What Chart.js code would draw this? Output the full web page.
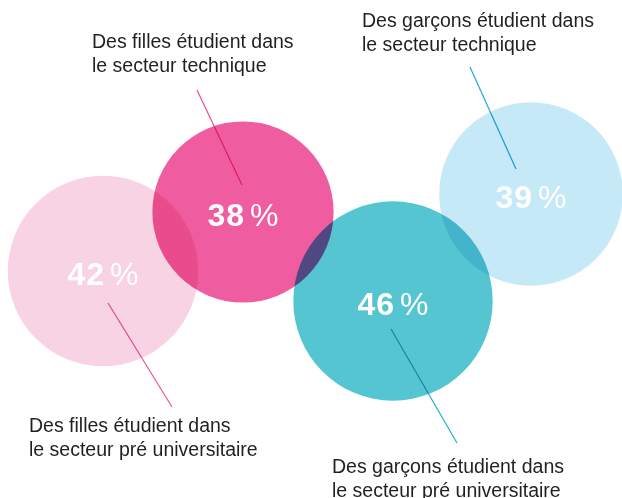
<!DOCTYPE html>
<html><head><meta charset="utf-8">
<script src="https://cdn.jsdelivr.net/npm/chart.js@4/dist/chart.umd.min.js"></script>
<style>html,body{margin:0;padding:0;background:#fff}#wrap{width:622px;height:498px;position:relative}</style>
</head><body><div id="wrap"><canvas id="c"></canvas></div>
<script>
// ---- data ----
const categories = [
  ["Des filles étudient dans", "le secteur pré universitaire"],
  ["Des filles étudient dans", "le secteur technique"],
  ["Des garçons étudient dans", "le secteur pré universitaire"],
  ["Des garçons étudient dans", "le secteur technique"]
];
const percentages = [42, 38, 46, 39];

// ---- layout (axis units = page pixels) ----
const bubbleX = [103, 243, 393, 531];
const bubbleY = [271, 212, 301, 194];
const labelX = [29, 92, 332, 362];
const labelY = [432, 48, 473, 27];
const leaderFrom = [[108, 303], [242, 185], [391, 329], [516, 169]];
const leaderTo = [[172, 407], [197, 90], [457, 443], [470, 67]];
const RADIUS_K = 14.7; // bubble area proportional to value

// ---- styles ----
const bubbleColors = ["#f8d3e3", "#ef5c9f", "#55c5d2", "#c6e9f8"];
const leaderColors = ["#e9559c", "#ea4c94", "#1fb0c8", "#1ea8e0"];

const FONT = '"Liberation Sans", Arial, Helvetica, sans-serif';

const multiplyPlugin = {
  id: 'multiply',
  beforeDatasetsDraw(chart) { chart.ctx.save(); chart.ctx.globalCompositeOperation = 'multiply'; },
  afterDatasetsDraw(chart) { chart.ctx.restore(); }
};

const annotatePlugin = {
  id: 'annotate',
  afterDraw(chart) {
    const ctx = chart.ctx;
    const xs = chart.scales.x, ys = chart.scales.y;
    const px = v => xs.getPixelForValue(v), py = v => ys.getPixelForValue(v);
    // leader lines
    ctx.save();
    ctx.globalCompositeOperation = 'multiply';
    ctx.lineWidth = 1.2;
    for (let i = 0; i < percentages.length; i++) {
      ctx.strokeStyle = leaderColors[i];
      ctx.beginPath();
      ctx.moveTo(px(leaderFrom[i][0]), py(leaderFrom[i][1]));
      ctx.lineTo(px(leaderTo[i][0]), py(leaderTo[i][1]));
      ctx.stroke();
    }
    ctx.restore();
    // category labels
    ctx.save();
    ctx.fillStyle = '#231f20';
    ctx.font = '400 19.5px ' + FONT;
    ctx.textAlign = 'left';
    ctx.textBaseline = 'alphabetic';
    for (let i = 0; i < categories.length; i++) {
      categories[i].forEach((line, j) => {
        ctx.fillText(line, px(labelX[i]), py(labelY[i]) + j * 23.5);
      });
    }
    ctx.restore();
    // percentage labels
    const meta = chart.getDatasetMeta(0);
    ctx.save();
    ctx.fillStyle = '#ffffff';
    ctx.textAlign = 'left';
    ctx.textBaseline = 'alphabetic';
    meta.data.forEach((el, i) => {
      const num = String(percentages[i]);
      ctx.font = '700 32px ' + FONT;
      ctx.letterSpacing = '1px';
      const wn = ctx.measureText(num).width;
      ctx.font = '400 32px ' + FONT;
      ctx.letterSpacing = '0px';
      const wp = ctx.measureText('%').width;
      const gap = 5;
      const start = el.x - (wn + gap + wp) / 2;
      const base = el.y + 14;
      ctx.font = '700 32px ' + FONT;
      ctx.letterSpacing = '1px';
      ctx.fillText(num, start, base);
      ctx.font = '400 32px ' + FONT;
      ctx.letterSpacing = '0px';
      ctx.fillText('%', start + wn + gap, base);
    });
    ctx.restore();
  }
};

new Chart(document.getElementById('c'), {
  type: 'bubble',
  data: {
    datasets: [{
      data: percentages.map((v, i) => ({ x: bubbleX[i], y: bubbleY[i], r: RADIUS_K * Math.sqrt(v) })),
      backgroundColor: bubbleColors,
      borderWidth: 0,
      clip: false
    }]
  },
  options: {
    responsive: true,
    maintainAspectRatio: false,
    animation: false,
    events: [],
    layout: { padding: 0, autoPadding: false },
    plugins: { legend: { display: false }, tooltip: { enabled: false } },
    scales: {
      x: { type: 'linear', min: 0, max: 622, display: false },
      y: { type: 'linear', min: 0, max: 498, reverse: true, display: false }
    }
  },
  plugins: [multiplyPlugin, annotatePlugin]
});
</script>
</body></html>
